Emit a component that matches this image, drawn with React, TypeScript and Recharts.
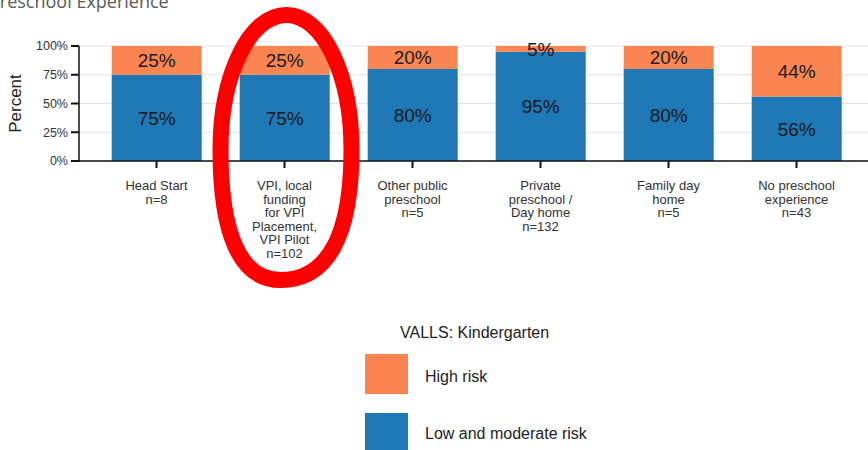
import React from "react";
import {
  BarChart,
  Bar,
  XAxis,
  YAxis,
  CartesianGrid,
  LabelList,
  Legend,
  ReferenceDot,
} from "recharts";

const categories = [
  "Head Start\nn=8",
  "VPI, local\nfunding\nfor VPI\nPlacement,\nVPI Pilot\nn=102",
  "Other public\npreschool\nn=5",
  "Private\npreschool /\nDay home\nn=132",
  "Family day\nhome\nn=5",
  "No preschool\nexperience\nn=43",
];
const lowModerate = [0.75, 0.75, 0.8, 0.95, 0.8, 0.56];
const highRisk = [0.25, 0.25, 0.2, 0.05, 0.2, 0.44];
const yTicks = [0, 0.25, 0.5, 0.75, 1];
const gridValues = [0, 0.125, 0.25, 0.375, 0.5, 0.625, 0.75, 0.875, 1];
const legendTitle = "VALLS: Kindergarten";
const seriesNames = { low: "Low and moderate risk", high: "High risk" };

const BLUE = "#1f78b6";
const ORANGE = "#fa8553";
const FONT = "'Liberation Sans', Arial, sans-serif";

const data = categories.map((c, i) => ({
  cat: c,
  low: lowModerate[i],
  high: highRisk[i],
}));

const pct = (v: number) => `${Math.round(v * 100)}%`;

const XTick = (props: any) => {
  const { x, y, payload } = props;
  const lines = String(payload.value).split("\n");
  return (
    <text
      x={x}
      y={y}
      textAnchor="middle"
      fontSize={13}
      fill="#333"
      fontFamily={FONT}
    >
      {lines.map((l, i) => (
        <tspan key={i} x={x} y={y + 20 + i * 13.6}>
          {l}
        </tspan>
      ))}
    </text>
  );
};

const LegendContent = () => (
  <div style={{ position: "relative", width: 868, height: 0, fontFamily: FONT }}>
    <div
      style={{
        position: "absolute",
        left: 400,
        top: 323,
        fontSize: 16,
        lineHeight: "20px",
        color: "#222",
        whiteSpace: "nowrap",
      }}
    >
      {legendTitle}
    </div>
    <div style={{ position: "absolute", left: 365, top: 354, width: 43, height: 40, background: ORANGE }} />
    <div
      style={{ position: "absolute", left: 425, top: 367, fontSize: 16, lineHeight: "20px", color: "#222", whiteSpace: "nowrap" }}
    >
      {seriesNames.high}
    </div>
    <div style={{ position: "absolute", left: 365, top: 413, width: 43, height: 40, background: BLUE }} />
    <div
      style={{ position: "absolute", left: 425, top: 424, fontSize: 16, lineHeight: "20px", color: "#222", whiteSpace: "nowrap" }}
    >
      {seriesNames.low}
    </div>
  </div>
);

// Hand-drawn looking oval annotation (fuller at the bottom), anchored on the category tick.
const OvalShape = (props: any) => {
  const { cx, cy } = props;
  if (cx == null || cy == null) return null;
  const my = cy - 11; // vertical middle of the oval
  const L = cx - 64;
  const R = cx + 67;
  const tx = cx + 2;
  const top = my - 135;
  const bx = cx - 4;
  const bot = my + 130;
  const kt = 0.56;
  const kb = 0.66;
  const d = [
    `M ${L} ${my}`,
    `C ${L} ${my - kt * (my - top)} ${tx - kt * (tx - L)} ${top} ${tx} ${top}`,
    `C ${tx + kt * (R - tx)} ${top} ${R} ${my - kt * (my - top)} ${R} ${my}`,
    `C ${R} ${my + kb * (bot - my)} ${bx + kb * (R - bx)} ${bot} ${bx} ${bot}`,
    `C ${bx - kb * (bx - L)} ${bot} ${L} ${my + kb * (bot - my)} ${L} ${my}`,
    "Z",
  ].join(" ");
  return <path d={d} fill="none" stroke="#ff0000" strokeWidth={16} />;
};

export default function App() {
  return (
    <div
      style={{
        position: "absolute",
        left: 0,
        top: 0,
        width: 868,
        height: 450,
        overflow: "hidden",
        background: "#fff",
      }}
    >
      <div
        style={{
          position: "absolute",
          left: -11,
          top: -8,
          fontSize: 18,
          lineHeight: "18px",
          fontFamily: "'Open Sans', sans-serif",
          color: "#595959",
          whiteSpace: "nowrap",
        }}
      >
        Preschool Experience
      </div>
      <BarChart
        width={874}
        height={450}
        data={data}
        margin={{ top: 46, right: 0, left: 0, bottom: 189 }}
        barCategoryGap="15%"
      >
        <CartesianGrid
          vertical={false}
          horizontalValues={gridValues}
          stroke="#e3e3e3"
          strokeWidth={1}
        />
        <XAxis
          dataKey="cat"
          height={100}
          padding={{ left: 13.5, right: 13.5 }}
          interval={0}
          tick={<XTick />}
          tickSize={7}
          tickMargin={2}
          axisLine={{ stroke: "#111", strokeWidth: 1.5 }}
          tickLine={{ stroke: "#111", strokeWidth: 2 }}
        />
        <YAxis
          width={79}
          domain={[0, 1]}
          ticks={yTicks}
          tickFormatter={pct}
          tickSize={8}
          tickMargin={3}
          tick={{ fontSize: 12.5, fill: "#333", fontFamily: FONT }}
          axisLine={{ stroke: "#111", strokeWidth: 1.5 }}
          tickLine={{ stroke: "#111", strokeWidth: 2 }}
          label={{
            value: "Percent",
            angle: -90,
            position: "insideLeft",
            offset: 15,
            style: { fontSize: 17, fill: "#222", fontFamily: FONT, textAnchor: "middle" },
          }}
        />
        <Bar dataKey="low" stackId="a" fill={BLUE} name={seriesNames.low} isAnimationActive={false}>
          <LabelList
            dataKey="low"
            position="center"
            formatter={(v: any) => pct(Number(v))}
            style={{ fontSize: 19, fill: "#1a1a1a", fontFamily: FONT }}
          />
        </Bar>
        <Bar dataKey="high" stackId="a" fill={ORANGE} name={seriesNames.high} isAnimationActive={false}>
          <LabelList
            dataKey="high"
            position="center"
            formatter={(v: any) => pct(Number(v))}
            style={{ fontSize: 19, fill: "#1a1a1a", fontFamily: FONT }}
          />
        </Bar>
        <Legend
          content={<LegendContent />}
          wrapperStyle={{ position: "absolute", left: 0, top: 0, bottom: "auto", width: 868, height: 0 }}
        />
        <ReferenceDot
          x={categories[1]}
          y={0}
          r={1}
          ifOverflow="visible"
          shape={<OvalShape />}
        />
      </BarChart>
    </div>
  );
}
